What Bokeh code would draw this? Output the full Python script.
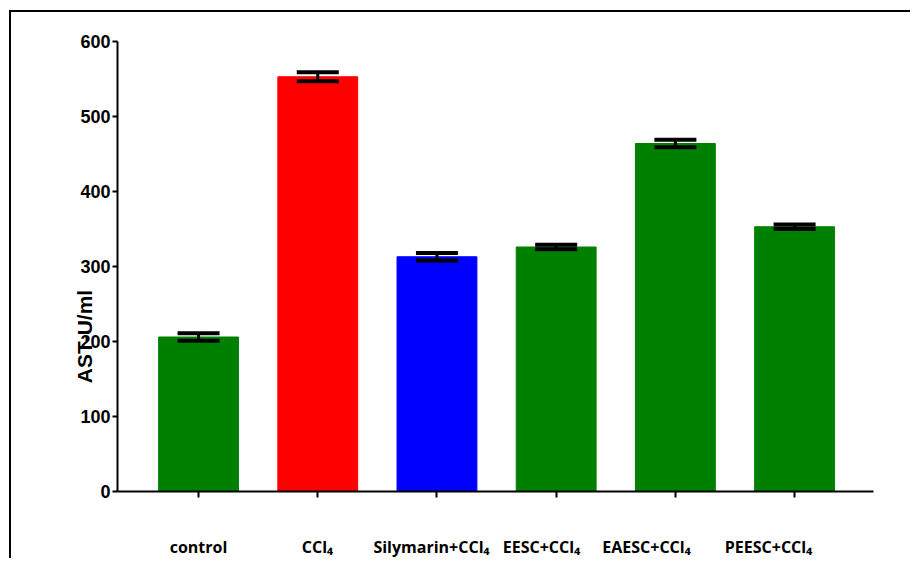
import math
from bokeh.plotting import figure
from bokeh.models import (ColumnDataSource, Range1d, FixedTicker, Whisker, TeeHead,
                          LinearAxis)
from bokeh.embed import file_html
from bokeh.resources import INLINE

# ---- data ----
categories = ["control", "CCl₄", "Silymarin+CCl₄", "EESC+CCl₄", "EAESC+CCl₄", "PEESC+CCl₄"]
ast_values = [206, 553, 313, 326, 464, 353]
ast_errors = [5, 6, 5, 3, 5, 3]
bar_colors = ["#008000", "#FF0000", "#0000FF", "#008000", "#008000", "#008000"]
y_ticks = [0, 100, 200, 300, 400, 500, 600]
y_label = "AST-U/ml"

# ---- layout constants ----
X_MIN, X_MAX = -0.68, 5.662
FRAME_W, FRAME_H = 756, 450
label_nudges = [0, 0, -5, -15, -29, -26]   # horizontal nudges of category labels (px)
y_label_px = 155                            # y-label centre, px above the x axis

xs = list(range(len(categories)))
src = ColumnDataSource(dict(
    x=xs, top=ast_values, color=bar_colors,
    upper=[v + e for v, e in zip(ast_values, ast_errors)],
    lower=[v - e for v, e in zip(ast_values, ast_errors)],
))

p = figure(width=901, height=548, output_backend="svg", toolbar_location=None,
           x_range=Range1d(X_MIN, X_MAX), y_range=Range1d(0, 600),
           min_border_left=106, min_border_right=39, min_border_top=29, min_border_bottom=69)
p.styles = {"border-left": "2px solid black", "border-top": "2px solid black",
            "margin-left": "9px", "margin-top": "10px"}
p.grid.visible = False
p.outline_line_color = None

p.vbar(x="x", top="top", width=0.67, source=src, fill_color="color",
       line_color="color", line_width=1)

w = Whisker(source=src, base="x", upper="upper", lower="lower",
            line_color="black", line_width=3, level="overlay",
            upper_head=TeeHead(size=42, line_color="black", line_width=4),
            lower_head=TeeHead(size=42, line_color="black", line_width=4))
p.add_layout(w)

# y axis
yax = p.yaxis[0]
yax.ticker = FixedTicker(ticks=y_ticks)
yax.axis_line_width = 2
yax.major_tick_line_width = 2
yax.major_tick_out = 5
yax.major_tick_in = 0
yax.minor_tick_line_color = None
yax.major_label_text_font = "Liberation Sans"
yax.major_label_text_font_style = "bold"
yax.major_label_text_font_size = "18px"
yax.major_label_standoff = 2
yax.major_label_text_color = "black"

# x axis: ticks only
xax = p.xaxis[0]
xax.ticker = FixedTicker(ticks=xs)
xax.axis_line_width = 2
xax.major_tick_line_width = 2
xax.major_tick_out = 6
xax.major_tick_in = 0
xax.minor_tick_line_color = None
xax.major_label_overrides = {i: "" for i in xs}

# pixel-based helper ranges for free text placement
p.extra_x_ranges = {"px": Range1d(0, FRAME_W)}
p.extra_y_ranges = {"px": Range1d(0, FRAME_H)}
scale = FRAME_W / (X_MAX - X_MIN)
lab_pos = [int(round((i - X_MIN) * scale)) + dx for i, dx in zip(xs, label_nudges)]

cat_axis = LinearAxis(x_range_name="px", ticker=FixedTicker(ticks=lab_pos),
                      axis_line_color=None, major_tick_line_color=None,
                      minor_tick_line_color=None,
                      major_label_overrides={pos: name for pos, name in zip(lab_pos, categories)},
                      major_label_text_font="Open Sans", major_label_text_font_style="bold",
                      major_label_text_font_size="16px", major_label_text_color="black",
                      major_label_standoff=32)
p.add_layout(cat_axis, "below")

ylab_axis = LinearAxis(y_range_name="px", ticker=FixedTicker(ticks=[y_label_px]),
                       axis_line_color=None, major_tick_line_color=None,
                       minor_tick_line_color=None,
                       major_label_overrides={y_label_px: y_label},
                       major_label_orientation="vertical",
                       major_label_text_font="Liberation Sans", major_label_text_font_style="bold",
                       major_label_text_font_size="21px", major_label_text_color="black",
                       major_label_standoff=-24)
p.add_layout(ylab_axis, "left")

open("out.html", "w").write(file_html(p, INLINE))
